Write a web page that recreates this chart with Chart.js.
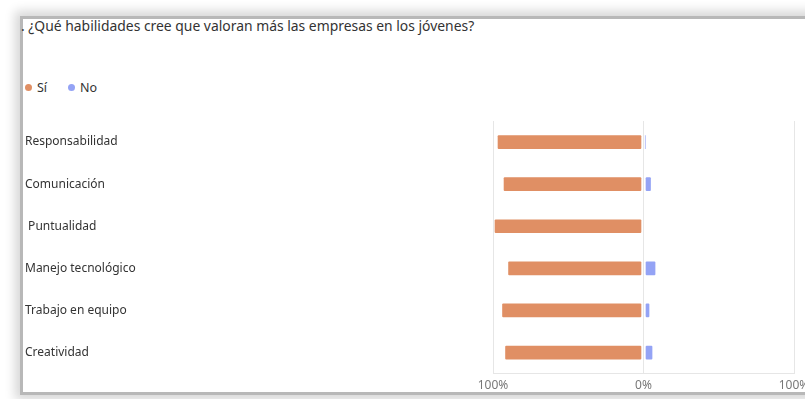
<!DOCTYPE html>
<html>
<head>
<meta charset="utf-8">
<script src="https://cdn.jsdelivr.net/npm/chart.js@4.4.0/dist/chart.umd.min.js"></script>
<style>
  body {
    margin: 0;
    width: 805px;
    height: 399px;
    overflow: hidden;
    position: relative;
    background: #fff;
    font-family: "Noto Sans", sans-serif;
  }
  .panel {
    position: absolute;
    left: 23px;
    top: 19px;
    width: 820px;
    height: 373px;
    background: #fff;
    box-shadow: 0 0 0 3px #b8b8b8, 0 0 10px 8px rgba(0, 0, 0, 0.16);
  }
  .title {
    position: absolute;
    left: 21px;
    top: 16px;
    font-size: 13.9px;
    color: #333;
    white-space: nowrap;
  }
  .legend-item {
    position: absolute;
    top: 78px;
    font-size: 12.5px;
    line-height: 19px;
    color: #333;
    display: flex;
    align-items: center;
  }
  .dot {
    width: 7px;
    height: 7px;
    border-radius: 50%;
    margin-right: 5px;
  }
  #chart { position: absolute; left: 0; top: 0; }
</style>
</head>
<body>
<div class="panel"></div>
<div class="title">. ¿Qué habilidades cree que valoran más las empresas en los jóvenes?</div>
<div class="legend-item" style="left:25px"><span class="dot" style="background:#E08F64"></span>Sí</div>
<div class="legend-item" style="left:68px"><span class="dot" style="background:#94A3F5"></span>No</div>
<canvas id="chart" width="830" height="399"></canvas>

<script>
const categories = ['Responsabilidad', 'Comunicación', ' Puntualidad', 'Manejo tecnológico', 'Trabajo en equipo', 'Creatividad'];
const siValues = [98, 94, 100, 91, 95, 93];
const noValues = [2, 6, 0, 9, 5, 7];
const axisTicks = [-100, 0, 100];

const SI_COLOR = '#E08F64';
const NO_COLOR = '#94A3F5';

Chart.defaults.font.family = "'Noto Sans', sans-serif";

// "Sí" goes to the left of zero, "No" to the right
const barStyle = {
  barThickness: 17,
  borderWidth: 2,
  borderColor: 'rgba(0,0,0,0)',
  borderSkipped: false,
  borderRadius: 3,
};

new Chart(document.getElementById('chart').getContext('2d'), {
  type: 'bar',
  data: {
    labels: categories,
    datasets: [
      { label: 'Sí', data: siValues.map(v => -v), backgroundColor: SI_COLOR, ...barStyle },
      { label: 'No', data: noValues, backgroundColor: NO_COLOR, ...barStyle },
    ]
  },
  options: {
    indexAxis: 'y',
    responsive: false,
    animation: false,
    devicePixelRatio: 1,
    layout: { padding: { left: 25, right: 36, top: 121, bottom: 1 } },
    plugins: {
      legend: { display: false },
      title: { display: false },
      tooltip: { enabled: false },
    },
    scales: {
      x: {
        stacked: true,
        min: -100,
        max: 100,
        afterBuildTicks: (scale) => { scale.ticks = axisTicks.map(v => ({ value: v })); },
        grid: { color: '#e6e6e6', drawTicks: false },
        border: { color: '#e6e6e6' },
        ticks: {
          padding: 5,
          color: '#777',
          font: { size: 12 },
          maxRotation: 0,
          callback: (v) => Math.abs(v) + '%',
        },
      },
      y: {
        stacked: true,
        grid: { display: false },
        border: { display: false },
        afterFit: (scale) => { scale.width = 468; },
        ticks: {
          crossAlign: 'far',
          color: '#333',
          font: { size: 12 },
        },
      },
    },
  },
});
</script>
</body>
</html>
